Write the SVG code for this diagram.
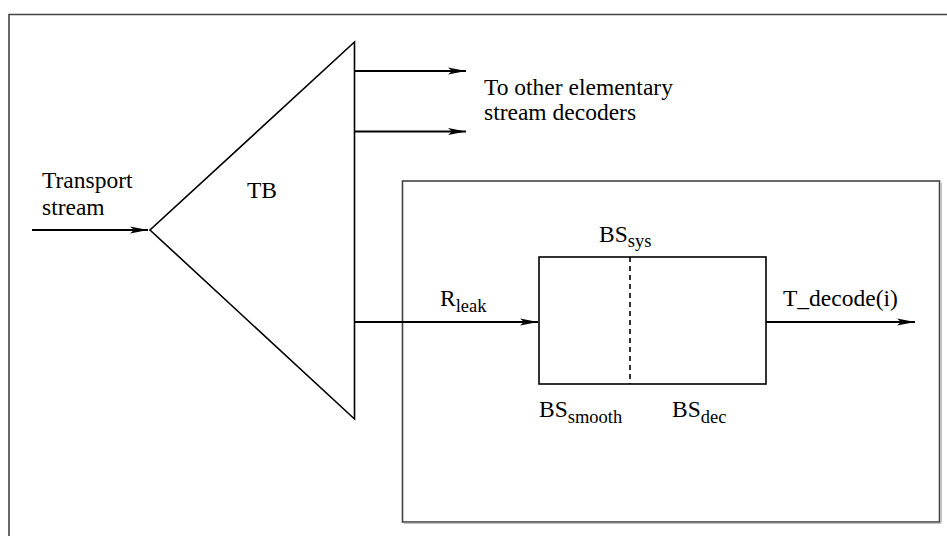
<svg xmlns="http://www.w3.org/2000/svg" width="947" height="536" viewBox="0 0 947 536">
<style>
text{font-family:"Liberation Serif","Times New Roman",serif;font-size:23.5px;fill:#000}
.sub{font-size:18.5px}
.frame{fill:none;stroke:#444;stroke-width:1.6}
.ln{fill:none;stroke:#000;stroke-width:1.6}
.arr{fill:none;stroke:#000;stroke-width:2;marker-end:url(#ah)}
</style>
<defs>
<marker id="ah" markerUnits="userSpaceOnUse" markerWidth="20" markerHeight="10" refX="18" refY="4" orient="auto">
<path d="M0,0.5 L18,4 L0,7.5 L4,4 Z" fill="#000"/>
</marker>
</defs>
<rect width="947" height="536" fill="#fff"/>
<g id="frame">
<path class="frame" d="M9,550 V14.5 H960"/>
</g>
<g id="decoder-box">
<rect class="frame" x="402.5" y="181" width="537" height="341"/>
<line x1="404" y1="523.2" x2="941" y2="523.2" stroke="#aaa" stroke-width="1"/>
<line x1="941.2" y1="183" x2="941.2" y2="523" stroke="#aaa" stroke-width="1"/>
</g>
<g id="TB">
<path class="ln" d="M354.5,42 V419 L150,230 Z"/>
<text x="247" y="198">TB</text>
</g>
<g id="BS">
<rect class="ln" x="539" y="257" width="227" height="127"/>
<line x1="630" y1="257" x2="630" y2="384" stroke="#000" stroke-width="1.6" stroke-dasharray="5,4"/>
<text x="599" y="242">BS<tspan class="sub" dy="5">sys</tspan></text>
<text x="539" y="417">BS<tspan class="sub" dy="6">smooth</tspan></text>
<text x="672" y="417">BS<tspan class="sub" dy="6">dec</tspan></text>
</g>
<g id="labels">
<text x="42" y="188">Transport</text>
<text x="42" y="215">stream</text>
<text x="484" y="95">To other elementary</text>
<text x="484" y="120">stream decoders</text>
<text x="440" y="306">R<tspan class="sub" dy="6">leak</tspan></text>
<text x="783" y="306">T_decode(i)</text>
</g>
<g id="connectors">
<line class="arr" x1="32" y1="230" x2="148" y2="230"/>
<line class="arr" x1="355" y1="71" x2="466" y2="71"/>
<line class="arr" x1="355" y1="131.5" x2="466" y2="131.5"/>
<line class="arr" x1="355" y1="322" x2="538" y2="322"/>
<line class="arr" x1="766" y1="322" x2="915" y2="322"/>
</g>
</svg>
